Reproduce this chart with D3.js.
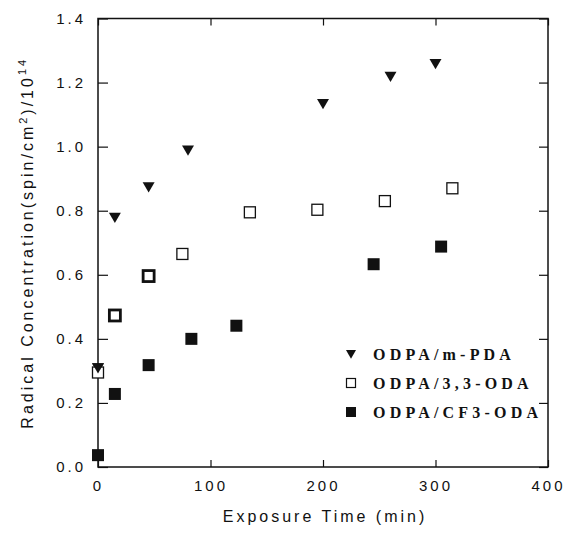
<!DOCTYPE html>
<html lang="en">
<head>
    <meta charset="UTF-8">
    <title>Radical Concentration vs Exposure Time</title>
    <script type="text/javascript" src="https://cdn.jsdelivr.net/npm/d3@7"></script>
    <style>
        body { margin: 0; background: #fff; }
        .tick text {
            font-family: "Liberation Sans", Arial, sans-serif;
            font-size: 15px;
            letter-spacing: 3px;
            fill: #111;
        }
        .axis-title {
            font-family: "Liberation Sans", Arial, sans-serif;
            font-size: 16px;
            letter-spacing: 3px;
            fill: #111;
        }
        .legend-text {
            font-family: "Liberation Serif", "Times New Roman", serif;
            font-size: 16px;
            font-weight: bold;
            letter-spacing: 4.2px;
            fill: #111;
        }
    </style>
</head>
<body>
    <script type="text/javascript">
        // series: exposure time (min), radical concentration (1e14 spin/cm2)
        const mpdaTime = [0, 15, 45, 80, 200, 260, 300];
        const mpdaConc = [0.31, 0.78, 0.875, 0.99, 1.135, 1.22, 1.26];

        const oda33Time = [0, 15, 45, 75, 135, 195, 255, 315];
        const oda33Conc = [0.295, 0.473, 0.596, 0.665, 0.795, 0.803, 0.83, 0.87];
        // points printed with a heavier outline in the original
        const oda33Heavy = [15, 45];

        const cf3Time = [0, 15, 45, 83, 123, 245, 305];
        const cf3Conc = [0.037, 0.228, 0.318, 0.40, 0.441, 0.633, 0.688];

        const legendLabels = ['ODPA/m-PDA', 'ODPA/3,3-ODA', 'ODPA/CF3-ODA'];
        const xTicks = [0, 100, 200, 300, 400];
        const yTicks = [0, 0.2, 0.4, 0.6, 0.8, 1.0, 1.2, 1.4];

        const w = 569;
        const h = 533;
        const margin = {left: 98, right: 21, top: 18.5, bottom: 66};

        const svg = d3.select('body')
            .append('svg')
            .attr('width', w)
            .attr('height', h);

        const xScale = d3.scaleLinear()
            .domain([0, 400])
            .range([margin.left, w - margin.right]);
        const yScale = d3.scaleLinear()
            .domain([0, 1.4])
            .range([h - margin.bottom, margin.top]);

        const x0 = xScale.range()[0], x1 = xScale.range()[1];
        const y0 = yScale.range()[0], y1 = yScale.range()[1];

        // axes, ticks pointing inward
        svg.append('g')
            .attr('transform', `translate(0,${y0})`)
            .call(d3.axisBottom(xScale).tickValues(xTicks).tickSize(-7).tickPadding(13).tickFormat(d3.format('d')));
        svg.append('g')
            .attr('transform', `translate(0,${y1})`)
            .call(d3.axisTop(xScale).tickValues(xTicks).tickSize(-7).tickFormat(''));
        svg.append('g')
            .attr('transform', `translate(${x0},0)`)
            .call(d3.axisLeft(yScale).tickValues(yTicks).tickSize(-10).tickPadding(12).tickFormat(d3.format('.1f')));
        svg.append('g')
            .attr('transform', `translate(${x1},0)`)
            .call(d3.axisRight(yScale).tickValues(yTicks).tickSize(-9).tickFormat(''));

        svg.selectAll('.domain').remove();
        svg.selectAll('.tick line').attr('stroke', '#111').attr('stroke-width', 1.2);

        // frame
        svg.append('rect')
            .attr('x', x0)
            .attr('y', y1)
            .attr('width', x1 - x0)
            .attr('height', y0 - y1)
            .attr('fill', 'none')
            .attr('stroke', '#111')
            .attr('stroke-width', 1.5);

        // axis titles
        svg.append('text')
            .attr('class', 'axis-title')
            .attr('x', (x0 + x1) / 2 + 2)
            .attr('y', 522)
            .attr('text-anchor', 'middle')
            .text('Exposure Time (min)');

        const yTitle = svg.append('text')
            .attr('class', 'axis-title')
            .attr('transform', `translate(33,${(y0 + y1) / 2}) rotate(-90)`)
            .attr('text-anchor', 'middle');
        yTitle.append('tspan').text('Radical Concentration(spin/cm');
        yTitle.append('tspan').attr('dy', -6).style('font-size', '11px').text('2');
        yTitle.append('tspan').attr('dy', 6).text(')/10');
        yTitle.append('tspan').attr('dy', -7).style('font-size', '11px').text('14');

        // markers
        const tri = d3.symbol(d3.symbolTriangle, 62);
        const triSmall = d3.symbol(d3.symbolTriangle, 44);

        svg.append('g')
            .selectAll('path')
            .data(d3.zip(mpdaTime, mpdaConc))
            .enter()
            .append('path')
            .attr('d', tri)
            .attr('transform', d => `translate(${xScale(d[0])},${yScale(d[1]) - 1}) rotate(180)`)
            .attr('fill', '#111');

        svg.append('g')
            .selectAll('rect')
            .data(d3.zip(oda33Time, oda33Conc))
            .enter()
            .append('rect')
            .attr('x', d => xScale(d[0]) - 5.5)
            .attr('y', d => yScale(d[1]) - 5.5)
            .attr('width', 11)
            .attr('height', 11)
            .attr('fill', 'white')
            .attr('stroke', '#111')
            .attr('stroke-width', d => oda33Heavy.includes(d[0]) ? 2.8 : 1.3);

        svg.append('g')
            .selectAll('rect')
            .data(d3.zip(cf3Time, cf3Conc))
            .enter()
            .append('rect')
            .attr('x', d => xScale(d[0]) - 6)
            .attr('y', d => yScale(d[1]) - 6)
            .attr('width', 12)
            .attr('height', 12)
            .attr('fill', '#111');

        // redraw the m-PDA point at t=0 over the open square
        svg.append('path')
            .attr('d', tri)
            .attr('transform', `translate(${xScale(mpdaTime[0])},${yScale(mpdaConc[0]) - 1}) rotate(180)`)
            .attr('fill', '#111');

        // legend
        const legend = svg.append('g').attr('transform', 'translate(351,354)');
        const rowGap = 29;
        legend.append('path')
            .attr('d', triSmall)
            .attr('transform', 'translate(0,-1) rotate(180)')
            .attr('fill', '#111');
        legend.append('rect')
            .attr('x', -4.5).attr('y', rowGap - 4.5)
            .attr('width', 9).attr('height', 9)
            .attr('fill', 'white').attr('stroke', '#111').attr('stroke-width', 1.2);
        legend.append('rect')
            .attr('x', -5).attr('y', 2 * rowGap - 5)
            .attr('width', 10).attr('height', 10)
            .attr('fill', '#111');
        legend.selectAll('text')
            .data(legendLabels)
            .enter()
            .append('text')
            .attr('class', 'legend-text')
            .attr('x', 22)
            .attr('y', (d, i) => i * rowGap + 6)
            .text(d => d);
    </script>
</body>
</html>
